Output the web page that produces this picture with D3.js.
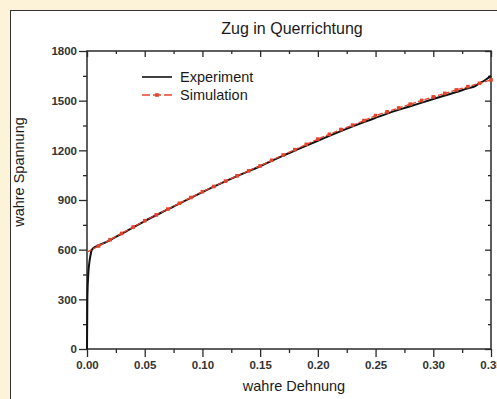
<!DOCTYPE html>
<html>
<head>
<meta charset="utf-8">
<script src="https://cdn.jsdelivr.net/npm/d3@7"></script>
<style>
  body { margin: 0; background: #fdf3d8; }
  svg { display: block; font-family: "Liberation Sans", Arial, sans-serif; }
</style>
</head>
<body>
<svg id="chart" width="497" height="399"></svg>
<script>
  'use strict'

  // chart texts
  var title = 'Zug in Querrichtung'
  var xLabel = 'wahre Dehnung'
  var yLabel = 'wahre Spannung'
  var seriesNames = ['Experiment', 'Simulation']

  // tick labels
  var xTicks = [0, 0.05, 0.10, 0.15, 0.20, 0.25, 0.30, 0.35]
  var yTicks = [0, 300, 600, 900, 1200, 1500, 1800]

  // Experiment
  var expStrain = [0, 0.0003, 0.001, 0.002, 0.003, 0.004, 0.006, 0.01, 0.02, 0.03, 0.05,
    0.07, 0.10, 0.13, 0.15, 0.17, 0.18, 0.20, 0.22, 0.24, 0.25, 0.26, 0.28, 0.30,
    0.31, 0.32, 0.33, 0.335, 0.34, 0.345, 0.35]
  var expStress = [0, 300, 440, 520, 565, 595, 612, 625, 658, 696, 773,
    843, 948, 1044, 1104, 1168, 1198, 1258, 1316, 1370, 1396, 1422, 1466, 1510,
    1531, 1552, 1574, 1584, 1605, 1625, 1650]

  // Simulation (one marker every 0.01)
  var simStrain = [0, 0.01, 0.02, 0.03, 0.04, 0.05, 0.06, 0.07, 0.08, 0.09, 0.10,
    0.11, 0.12, 0.13, 0.14, 0.15, 0.16, 0.17, 0.18, 0.19, 0.20, 0.21, 0.22, 0.23,
    0.24, 0.25, 0.26, 0.27, 0.28, 0.29, 0.30, 0.31, 0.32, 0.33, 0.34, 0.35]
  var simStress = [585, 622, 660, 698, 737, 775, 810, 845, 880, 915, 950,
    982, 1014, 1046, 1076, 1106, 1140, 1172, 1204, 1236, 1268, 1297, 1326, 1352,
    1380, 1410, 1433, 1456, 1479, 1501, 1523, 1544, 1565, 1585, 1605, 1625]

  var axisColor = '#2a2a2a'
  var simColor = '#e4442c'

  var svg = d3.select('#chart')
  var margin = { top: 51, right: 6, bottom: 50, left: 87 }
  var width = 497 - margin.left - margin.right
  var height = 399 - margin.top - margin.bottom

  // white panel with dark frame
  svg.append('rect')
    .attr('x', 10.5)
    .attr('y', 10.5)
    .attr('width', 500)
    .attr('height', 400)
    .attr('fill', '#ffffff')
    .attr('stroke', '#333')
    .attr('stroke-width', 1)

  var x = d3.scaleLinear().domain([0, 0.35]).range([0, width])
  var y = d3.scaleLinear().domain([0, 1800]).range([height, 0])

  var g = svg.append('g').attr('transform', 'translate(' + margin.left + ',' + margin.top + ')')

  var xMinor = d3.range(0.025, 0.35, 0.05)
  var yMinor = d3.range(150, 1800, 300)

  function styleAxis (sel) {
    sel.select('.domain').remove()
    sel.selectAll('line').attr('stroke', axisColor).attr('stroke-width', 1.3)
    sel.selectAll('text')
      .attr('fill', '#333')
      .style('font-size', '11.5px')
      .style('font-weight', 'bold')
  }

  // bottom axis (outward ticks)
  g.append('g')
    .attr('transform', 'translate(0,' + height + ')')
    .call(d3.axisBottom(x).tickValues(xTicks).tickSize(8).tickPadding(4).tickFormat(d3.format('.2f')))
    .call(styleAxis)
  g.append('g')
    .attr('transform', 'translate(0,' + height + ')')
    .call(d3.axisBottom(x).tickValues(xMinor).tickSize(4).tickFormat(''))
    .call(styleAxis)

  // left axis (outward ticks)
  g.append('g')
    .call(d3.axisLeft(y).tickValues(yTicks).tickSize(8).tickPadding(2).tickFormat(d3.format('d')))
    .call(styleAxis)
  g.append('g')
    .call(d3.axisLeft(y).tickValues(yMinor).tickSize(4).tickFormat(''))
    .call(styleAxis)

  // top and right mirror axes (inward ticks)
  g.append('g')
    .call(d3.axisTop(x).tickValues(xTicks).tickSize(-6).tickFormat(''))
    .call(styleAxis)
  g.append('g')
    .call(d3.axisTop(x).tickValues(xMinor).tickSize(-3).tickFormat(''))
    .call(styleAxis)
  g.append('g')
    .attr('transform', 'translate(' + width + ',0)')
    .call(d3.axisRight(y).tickValues(yTicks).tickSize(-6).tickFormat(''))
    .call(styleAxis)
  g.append('g')
    .attr('transform', 'translate(' + width + ',0)')
    .call(d3.axisRight(y).tickValues(yMinor).tickSize(-3).tickFormat(''))
    .call(styleAxis)

  // frame
  g.append('rect')
    .attr('width', width)
    .attr('height', height)
    .attr('fill', 'none')
    .attr('stroke', axisColor)
    .attr('stroke-width', 1.5)

  var line = d3.line()
    .x(function (d) { return x(d[0]) })
    .y(function (d) { return y(d[1]) })

  var expData = d3.zip(expStrain, expStress)
  var simData = d3.zip(simStrain, simStress)

  g.append('path')
    .datum(expData)
    .attr('d', line.curve(d3.curveMonotoneX))
    .attr('fill', 'none')
    .attr('stroke', '#111')
    .attr('stroke-width', 2)

  g.append('path')
    .datum(simData)
    .attr('d', line.curve(d3.curveLinear))
    .attr('fill', 'none')
    .attr('stroke', simColor)
    .attr('stroke-width', 1.3)
    .attr('stroke-dasharray', '5,2')

  g.selectAll('.marker')
    .data(simData.slice(1))
    .enter().append('rect')
    .attr('class', 'marker')
    .attr('x', function (d) { return x(d[0]) - 1.8 })
    .attr('y', function (d) { return y(d[1]) - 1.8 })
    .attr('width', 3.6)
    .attr('height', 3.6)
    .attr('fill', simColor)

  // legend
  var legend = svg.append('g')
  legend.append('line')
    .attr('x1', 142).attr('x2', 172)
    .attr('y1', 77).attr('y2', 77)
    .attr('stroke', '#111')
    .attr('stroke-width', 1.6)
  legend.append('line')
    .attr('x1', 142).attr('x2', 172)
    .attr('y1', 95).attr('y2', 95)
    .attr('stroke', simColor)
    .attr('stroke-width', 1.3)
    .attr('stroke-dasharray', '8,3')
  legend.append('rect')
    .attr('x', 155.2).attr('y', 93.2)
    .attr('width', 3.6).attr('height', 3.6)
    .attr('fill', simColor)
  legend.selectAll('text')
    .data(seriesNames)
    .enter().append('text')
    .attr('x', 180)
    .attr('y', function (d, i) { return 82 + i * 18 })
    .style('font-size', '14.5px')
    .attr('fill', '#1a1a1a')
    .text(function (d) { return d })

  // title and axis labels
  svg.append('text')
    .attr('x', 292)
    .attr('y', 34)
    .attr('text-anchor', 'middle')
    .style('font-size', '16px')
    .attr('fill', '#1a1a1a')
    .text(title)

  svg.append('text')
    .attr('x', 294)
    .attr('y', 391)
    .attr('text-anchor', 'middle')
    .style('font-size', '14.5px')
    .attr('fill', '#1a1a1a')
    .text(xLabel)

  svg.append('text')
    .attr('transform', 'translate(24,172) rotate(-90)')
    .attr('text-anchor', 'middle')
    .style('font-size', '14.5px')
    .attr('fill', '#1a1a1a')
    .text(yLabel)
</script>
</body>
</html>
